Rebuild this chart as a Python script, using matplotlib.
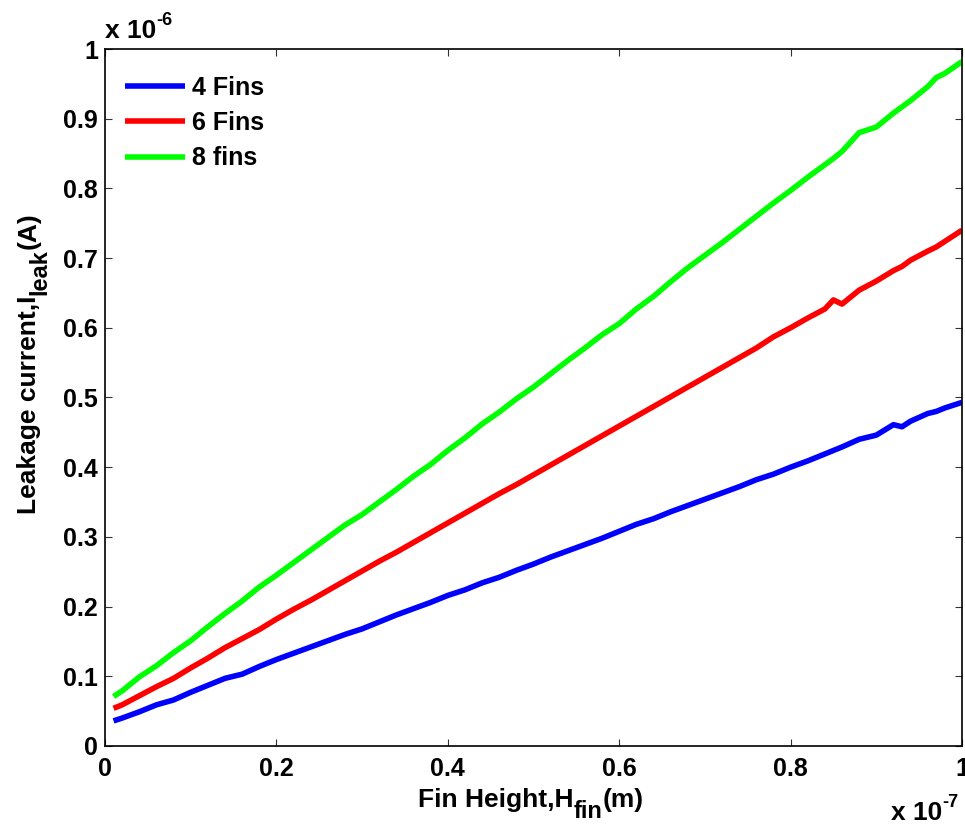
import matplotlib
matplotlib.use("Agg")
import matplotlib.pyplot as plt
from matplotlib.transforms import IdentityTransform

# Fin height sweep (units of 1e-7 m) and leakage currents (units of 1e-6 A)
fin_height = [0.01, 0.02, 0.04, 0.06, 0.08, 0.10, 0.12, 0.14, 0.16, 0.18,
              0.20, 0.22, 0.24, 0.26, 0.28, 0.30, 0.32, 0.34, 0.36, 0.38,
              0.40, 0.42, 0.44, 0.46, 0.48, 0.50, 0.52, 0.54, 0.56, 0.58,
              0.60, 0.62, 0.64, 0.66, 0.68, 0.70, 0.72, 0.74, 0.76, 0.78,
              0.80, 0.82, 0.84, 0.85, 0.86, 0.88, 0.90, 0.92, 0.93, 0.94,
              0.96, 0.97, 0.98, 1.00]

leak_4fins = [0.036, 0.040, 0.049, 0.059, 0.066, 0.077, 0.087, 0.097, 0.103, 0.114,
              0.124, 0.133, 0.142, 0.151, 0.160, 0.168, 0.178, 0.188, 0.197, 0.206,
              0.216, 0.224, 0.234, 0.242, 0.252, 0.261, 0.271, 0.280, 0.289, 0.298,
              0.308, 0.318, 0.326, 0.336, 0.345, 0.354, 0.363, 0.372, 0.382, 0.390,
              0.400, 0.409, 0.419, 0.424, 0.429, 0.440, 0.446, 0.461, 0.458, 0.466,
              0.477, 0.480, 0.485, 0.493]

leak_6fins = [0.054, 0.059, 0.072, 0.085, 0.097, 0.112, 0.126, 0.141, 0.154, 0.167,
              0.182, 0.196, 0.209, 0.223, 0.237, 0.251, 0.265, 0.278, 0.292, 0.306,
              0.320, 0.334, 0.348, 0.362, 0.375, 0.389, 0.403, 0.417, 0.431, 0.445,
              0.459, 0.473, 0.487, 0.501, 0.515, 0.529, 0.543, 0.557, 0.571, 0.587,
              0.600, 0.614, 0.627, 0.640, 0.634, 0.654, 0.667, 0.682, 0.688, 0.697,
              0.710, 0.716, 0.724, 0.740]

leak_8fins = [0.071, 0.079, 0.099, 0.115, 0.134, 0.151, 0.171, 0.190, 0.208, 0.228,
              0.245, 0.263, 0.281, 0.299, 0.317, 0.332, 0.350, 0.368, 0.387, 0.404,
              0.424, 0.442, 0.462, 0.479, 0.498, 0.515, 0.534, 0.553, 0.571, 0.590,
              0.606, 0.627, 0.645, 0.666, 0.686, 0.704, 0.722, 0.741, 0.760, 0.779,
              0.797, 0.816, 0.834, 0.843, 0.853, 0.880, 0.888, 0.908, 0.917, 0.926,
              0.946, 0.959, 0.965, 0.982]

series = [("4 Fins", leak_4fins, "#0000ff"),
          ("6 Fins", leak_6fins, "#ff0000"),
          ("8 fins", leak_8fins, "#00ff00")]

x_ticks = [0, 0.2, 0.4, 0.6, 0.8, 1]
x_ticklabels = ["0", "0.2", "0.4", "0.6", "0.8", "1"]
y_ticks = [0, 0.1, 0.2, 0.3, 0.4, 0.5, 0.6, 0.7, 0.8, 0.9, 1]
y_ticklabels = ["0", "0.1", "0.2", "0.3", "0.4", "0.5", "0.6", "0.7", "0.8", "0.9", "1"]

plt.rcParams["font.family"] = ["Liberation Sans", "DejaVu Sans"]
plt.rcParams["font.weight"] = "bold"

fig = plt.figure(figsize=(9.65, 8.25), dpi=100, facecolor="white")
ax = fig.add_axes([0.1088, 0.0958, 0.8881, 0.8448])
renderer = fig.canvas.get_renderer()


def rich_label(x, y, pieces, vertical=False, center=True):
    """Lay out (text, size, shift_px) pieces one after another, in pixels.
    shift_px moves a piece off the baseline (negative = subscript)."""
    placed = []
    pos = 0.0
    for s, size, shift in pieces:
        if vertical:
            t = fig.text(x - shift, y + pos, s, fontsize=size, fontweight="bold",
                         rotation=90, rotation_mode="anchor", ha="left",
                         va="baseline", transform=IdentityTransform())
            pos += t.get_window_extent(renderer).height
        else:
            t = fig.text(x + pos, y + shift, s, fontsize=size, fontweight="bold",
                         ha="left", va="baseline", transform=IdentityTransform())
            pos += t.get_window_extent(renderer).width
        placed.append(t)
    if center:
        for t in placed:
            px, py = t.get_position()
            if vertical:
                t.set_position((px, py - pos / 2))
            else:
                t.set_position((px - pos / 2, py))
    return placed


for label, values, color in series:
    ax.plot(fin_height, values, color=color, lw=4, label=label,
            solid_joinstyle="round", solid_capstyle="butt")

ax.set_xlim(0, 1)
ax.set_ylim(0, 1)
ax.set_xticks(x_ticks)
ax.set_xticklabels(x_ticklabels)
ax.set_yticks(y_ticks)
ax.set_yticklabels(y_ticklabels)
ax.tick_params(direction="in", length=5, width=0.8, top=True, right=True,
               labelsize=18, color="#333333")
ax.tick_params(axis="x", pad=8)
ax.tick_params(axis="y", pad=5)
for spine in ax.spines.values():
    spine.set_linewidth(1.2)

# axis titles with full-height subscripts (pixel coords, origin bottom-left)
rich_label(531, 18, [("Fin Height,H", 19, 0), ("fin", 17, -11), ("(m)", 19, 0)])
rich_label(36, 825 - 363, [("Leakage current,I", 19, 0), ("leak", 17, -10),
                           ("(A)", 19, 0)], vertical=True)

# exponent multipliers
rich_label(105, 825 - 38, [("x 10", 19, 0), ("-6", 13, 13)], center=False)
rich_label(891, 5, [("x 10", 19, 0), ("-7", 13, 13)], center=False)

ax.legend(loc="upper left", frameon=False, fontsize=18, handlelength=2.4,
          handletextpad=0.3, labelspacing=0.45, borderaxespad=0.4,
          bbox_to_anchor=(0.0, 0.99))

fig.savefig("out.png", dpi=100, facecolor="white")
